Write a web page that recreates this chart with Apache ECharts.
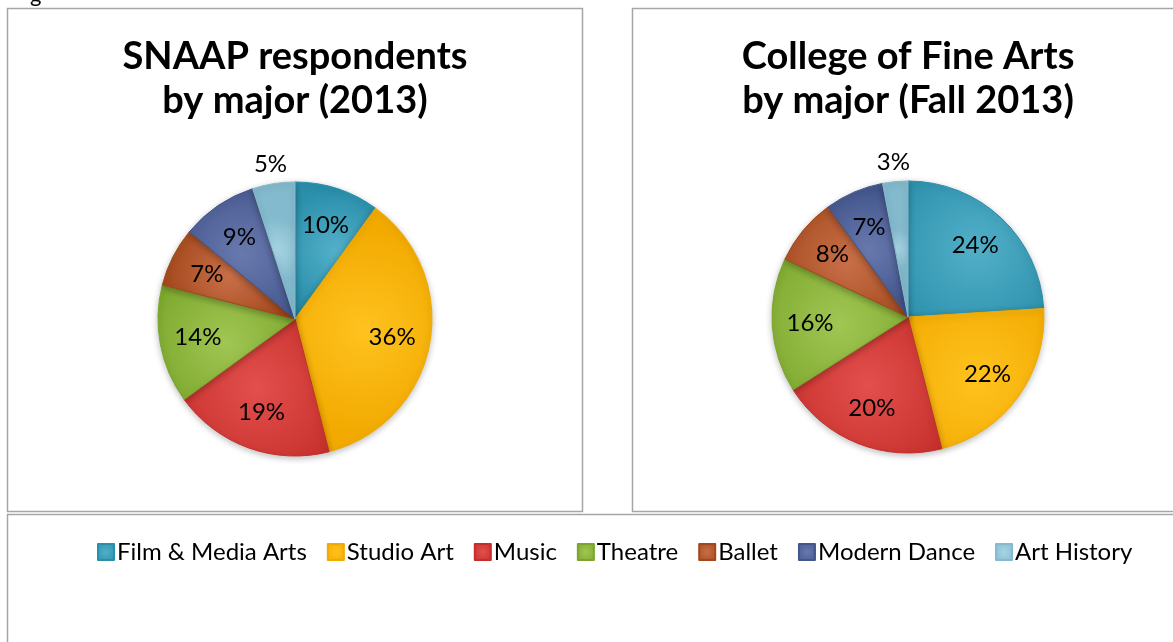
<!DOCTYPE html>
<html>
	<head>
		<meta charset="utf-8">
		<title>SNAAP respondents vs College of Fine Arts</title>
		<script src="https://cdn.jsdelivr.net/npm/echarts@6/dist/echarts.min.js"></script>
		<style>
			html, body { margin: 0; padding: 0; background: #fff; }
			#chart { width: 1173px; height: 642px; }
		</style>
	</head>
	<body>
		<div id="chart"></div>
	</body>
	<script>
	// majors, same order in both pies
	var majors = ['Film & Media Arts', 'Studio Art', 'Music', 'Theatre', 'Ballet', 'Modern Dance', 'Art History'];
	// percent shares
	var snaapValues = [10, 36, 19, 14, 7, 9, 5];
	var cfaValues = [24, 22, 20, 16, 8, 7, 3];
	// light center / darker edge per major
	var lightColors = ['#52AFC8', '#FFC21F', '#E24F4C', '#A0C653', '#C86F48', '#6879AE', '#A8D5E4'];
	var darkColors = ['#2A8FAB', '#F2AA00', '#C52E2A', '#7BA62B', '#A4481C', '#44578D', '#83BACD'];

	var font = 'Lato, "Open Sans", sans-serif';
	var chart = echarts.init(document.getElementById('chart'));

	var fill = function (i) {
		return new echarts.graphic.RadialGradient(0.5, 0.5, 0.75, [
			{ offset: 0, color: lightColors[i] },
			{ offset: 1, color: darkColors[i] }
		]);
	};

	// one pie = colored slices + a transparent ring for inside labels + one for the small slice
	var makePie = function (values, cx, cy, r) {
		var last = values.length - 1;
		var slices = values.map(function (v, i) {
			return { name: majors[i], value: v, itemStyle: { color: fill(i), borderColor: darkColors[i], borderWidth: 1 } };
		});
		var inner = values.map(function (v, i) {
			return { name: majors[i], value: v, label: { show: i !== last } };
		});
		var outer = values.map(function (v, i) {
			return { name: majors[i], value: v, label: { show: i === last } };
		});
		var labelStyle = { position: 'inside', formatter: '{c}%', color: '#000', fontFamily: font, fontSize: 24 };
		var common = {
			type: 'pie', center: [cx, cy], startAngle: 90, clockwise: true,
			avoidLabelOverlap: false, silent: true, animation: false,
			emphasis: { disabled: true }, labelLine: { show: false }
		};
		return [
			Object.assign({}, common, {
				radius: [0, r], data: slices, label: { show: false },
				itemStyle: { shadowBlur: 6, shadowColor: 'rgba(0,0,0,0.25)', shadowOffsetY: 2 }
			}),
			Object.assign({}, common, {
				radius: [r * 0.4, r], data: inner, label: labelStyle,
				itemStyle: { color: 'rgba(0,0,0,0)' }
			}),
			Object.assign({}, common, {
				radius: [r, r * 1.24], data: outer, label: labelStyle,
				itemStyle: { color: 'rgba(0,0,0,0)' }
			})
		];
	};

	var box = function (x, y, w, h) {
		return { type: 'rect', shape: { x: x, y: y, width: w, height: h }, style: { fill: 'none', stroke: '#A6A6A6', lineWidth: 1.5 }, z: -1 };
	};
	var heading = function (x, text) {
		return { type: 'text', x: x, y: 35, style: { text: text, textAlign: 'center', fill: '#000', font: 'bold 38px ' + font, lineHeight: 44 } };
	};

	var option = {
		backgroundColor: '#fff',
		animation: false,
		graphic: [
			box(7.5, 8.5, 575, 503),
			box(632.5, 8.5, 560, 503),
			box(7.5, 514.5, 1185, 140),
			heading(295, 'SNAAP respondents\nby major (2013)'),
			heading(908, 'College of Fine Arts\nby major (Fall 2013)'),
			{ type: 'text', x: 30, y: -16, style: { text: 'g', fill: '#000', font: '22px ' + font } }
		],
		legend: {
			data: majors,
			left: 92, top: 535,
			itemWidth: 16, itemHeight: 16, itemGap: 20,
			icon: 'rect',
			textStyle: { fontFamily: font, fontSize: 24, color: '#000', padding: [0, 0, 0, -2] },
			selectedMode: false
		},
		series: makePie(snaapValues, 295, 319, 137).concat(makePie(cfaValues, 908, 317, 136))
	};
	chart.setOption(option);
	</script>
</html>
